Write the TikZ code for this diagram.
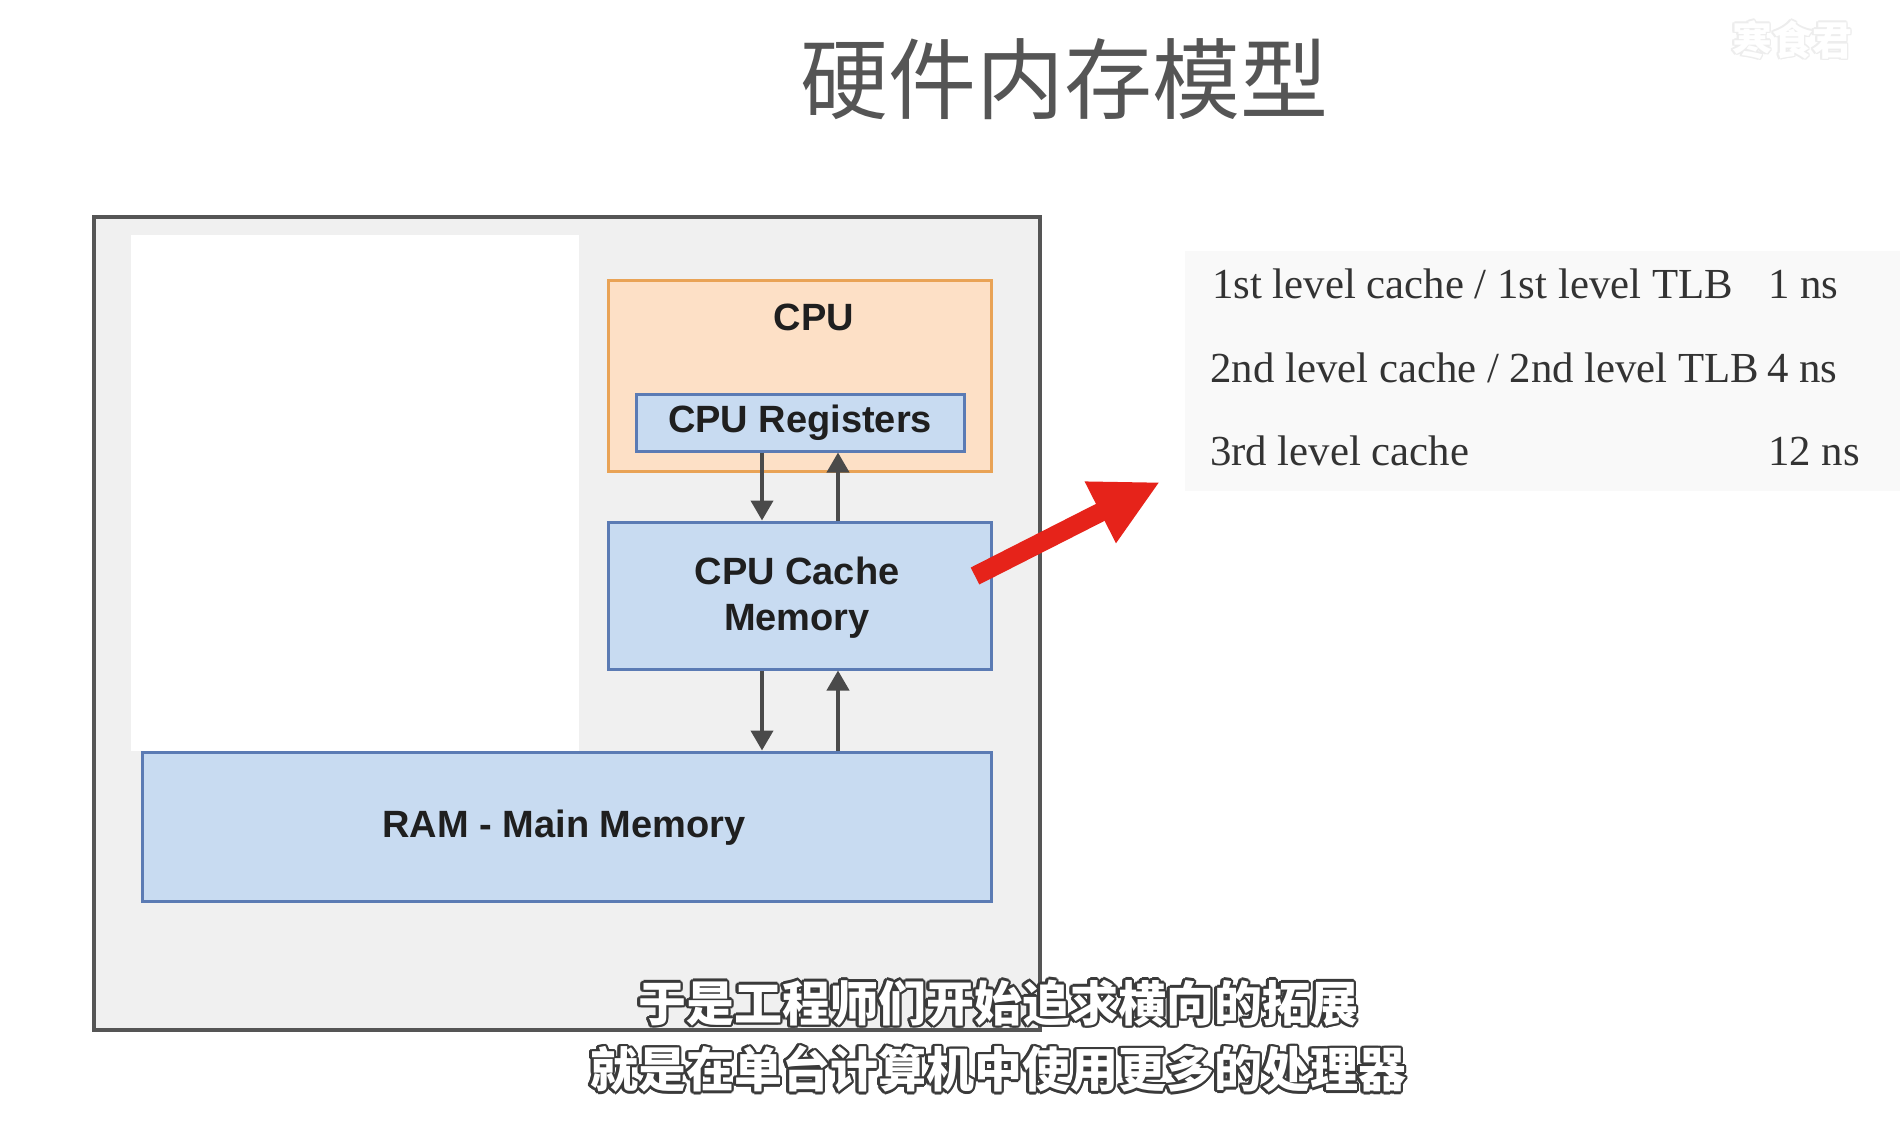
\documentclass[tikz,border=0pt]{standalone}
\usepackage{fontspec}
\setmainfont{Liberation Serif}
\newfontfamily\boxfont{Liberation Sans}
\newfontfamily\cjk{Noto Sans CJK SC}
\usetikzlibrary{arrows.meta,calc}
\definecolor{framegray}{HTML}{555555}
\definecolor{panelgray}{HTML}{F0F0F0}
\definecolor{bluefill}{HTML}{C8DBF1}
\definecolor{blueline}{HTML}{5B7BB4}
\definecolor{peachfill}{HTML}{FDE0C6}
\definecolor{orangeline}{HTML}{E9A356}
\definecolor{arrowgray}{HTML}{4A4A4A}
\definecolor{redarrow}{HTML}{E6231A}
\definecolor{titlegray}{HTML}{555555}
\definecolor{tablebg}{HTML}{F9F9F9}
\definecolor{tabletext}{HTML}{333333}
\definecolor{subline}{HTML}{3A3A3A}
\tikzset{
  bluebox/.style={draw=blueline, fill=bluefill, line width=3pt, inner sep=0pt},
  cpubox/.style={draw=orangeline, fill=peachfill, line width=3pt, inner sep=0pt},
  boxtext/.style={font=\boxfont\bfseries\fontsize{38}{46}\selectfont, text=black!88, align=center, inner sep=0pt},
  garrow/.style={draw=arrowgray, line width=4pt, -{Triangle[width=22pt,length=20pt]}},
  tabtext/.style={font=\fontsize{42.8}{50}\selectfont, text=tabletext, anchor=base west, inner sep=0pt},
  subfont/.style={font=\cjk\bfseries\fontsize{48}{56}\selectfont, inner sep=0pt},
}
\begin{document}
\begin{tikzpicture}[x=1pt,y=-1pt]
\useasboundingbox (0,0) rectangle (1900,1124);
\fill[white] (0,0) rectangle (1900,1124);
% title
\node[font=\cjk\fontsize{88}{96}\selectfont, text=titlegray, inner sep=0pt] (title) at (1064,79) {硬件内存模型};
% watermark
\foreach \a in {0,45,...,315}
  \node[font=\cjk\bfseries\fontsize{40}{44}\selectfont, text=black!7, inner sep=0pt] (wm\a) at ($(1792,40)+(\a:1.5)$) {寒食君};
\node[font=\cjk\bfseries\fontsize{40}{44}\selectfont, text=white, inner sep=0pt] (wm) at (1792,40) {寒食君};
% outer frame
\draw[framegray, fill=panelgray, line width=3.5pt] (94,217) rectangle (1040,1030);
\fill[white] (131,235) rectangle (579,751);
% CPU
\node[cpubox, minimum width=383, minimum height=191] (cpu) at (799.5,375.5) {};
\node[boxtext] (cpulabel) at (814,317) {CPU};
\node[bluebox, minimum width=328, minimum height=57, boxtext] (reg) at (800,422.5) {CPU Registers};
\node[bluebox, minimum width=383, minimum height=147] (cache) at (799.5,595.5) {};
\node[boxtext] (cachelabel) at (797,598) {CPU Cache\\Memory};
\node[bluebox, minimum width=849, minimum height=149] (ram) at (566.5,826.5) {};
\node[boxtext] (ramlabel) at (564,828) {RAM - Main Memory};
% connectors
\coordinate (dn) at (762,0);
\coordinate (up) at (838,0);
\draw[garrow] (reg.south -| dn) -- (cache.north -| dn);
\draw[garrow] (cache.north -| up) -- (reg.south -| up);
\draw[garrow] (cache.south -| dn) -- (ram.north -| dn);
\draw[garrow] (ram.north -| up) -- (cache.south -| up);
% table
\fill[tablebg] (1185,251) rectangle (1900,491);
\node[tabtext] (l1) at (1212,298) {1st level cache / 1st level TLB};
\node[tabtext] (t1) at (1768,298) {1 ns};
\node[tabtext] (l2) at (1210,382) {2nd level cache / 2nd level TLB};
\node[tabtext] (t2) at (1767,382) {4 ns};
\node[tabtext] (l3) at (1210,465) {3rd level cache};
\node[tabtext] (t3) at (1768,465) {12 ns};
% red arrow
\coordinate (redstart) at (975,576);
\coordinate (redend) at (1160,482);
\draw[redarrow, line width=19pt, -{Triangle[width=64pt,length=67pt]}] (redstart) -- (redend);
% subtitles
\foreach \a in {0,30,...,330} {
  \node[subfont, text=subline] (sa\a) at ($(998,1003)+(\a:2.4)$) {于是工程师们开始追求横向的拓展};
  \node[subfont, text=subline] (sb\a) at ($(998,1069)+(\a:2.4)$) {就是在单台计算机中使用更多的处理器};
}
\node[subfont, text=white] (sub1) at (998,1003) {于是工程师们开始追求横向的拓展};
\node[subfont, text=white] (sub2) at (998,1069) {就是在单台计算机中使用更多的处理器};
\end{tikzpicture}
\end{document}
